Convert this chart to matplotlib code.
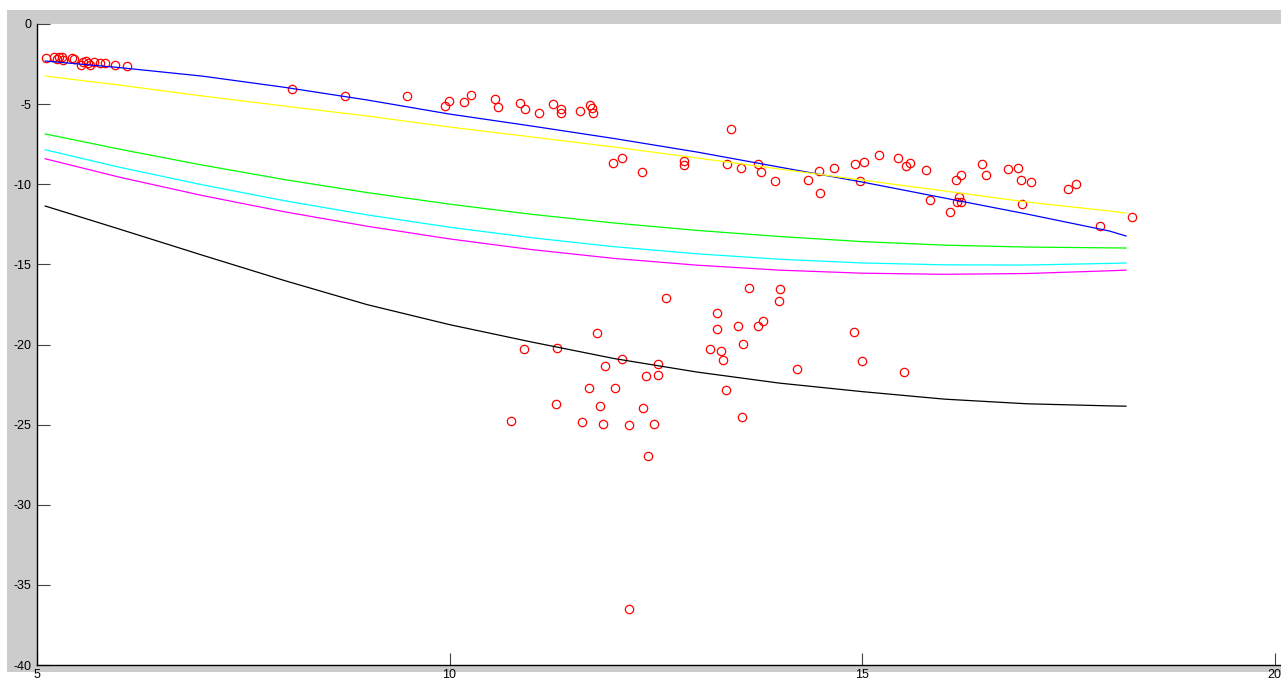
import matplotlib
matplotlib.use("Agg")
import matplotlib.pyplot as plt
from matplotlib.patches import Rectangle

plt.rcParams['font.family'] = ['Liberation Sans', 'DejaVu Sans']
plt.rcParams['axes.unicode_minus'] = False

# measured points
obs_x = [5.11, 5.20, 5.24, 5.27, 5.30, 5.32, 5.42, 5.45, 5.53, 5.56, 5.59, 5.62, 5.64, 5.69,
         5.76, 5.82, 5.95, 6.09, 8.09, 8.73,
         9.48, 9.99, 9.95, 10.17, 10.26, 10.55, 10.59, 10.86, 10.92, 11.08, 11.26, 11.35, 11.35,
         11.58, 11.70, 11.73, 11.74, 11.98, 12.09, 12.33,
         13.41, 12.84, 12.84, 13.36, 13.53, 13.74, 13.78, 13.94, 14.34, 14.48, 14.49, 14.66,
         14.92, 15.03, 15.20, 14.98, 15.44, 15.58, 15.53, 15.77, 16.14, 16.20, 16.46, 16.50,
         16.77, 16.89, 16.93, 17.05, 17.50, 17.59, 15.82, 16.07, 16.17, 16.20, 16.15, 16.94,
         17.88, 18.27,
         12.62, 13.63, 14.01, 13.99, 13.24, 13.24, 13.50, 13.80, 13.74, 11.79, 10.90, 11.30,
         13.16, 13.29, 13.31, 13.56, 12.09, 11.89, 12.53, 12.53, 12.38, 14.21, 13.35, 11.69,
         12.01, 11.29, 11.83, 12.34, 13.55, 10.75, 11.60, 11.86, 12.18, 12.48, 12.40, 14.90,
         15.00, 15.51, 12.18]
obs_y = [-2.14, -2.04, -2.20, -2.08, -2.04, -2.25, -2.14, -2.20, -2.56, -2.35, -2.29, -2.45, -2.56, -2.35,
         -2.42, -2.45, -2.56, -2.62, -4.08, -4.48,
         -4.48, -4.79, -5.10, -4.85, -4.45, -4.70, -5.16, -4.95, -5.32, -5.57, -5.01, -5.31, -5.57,
         -5.41, -5.06, -5.26, -5.57, -8.68, -8.36, -9.24,
         -6.54, -8.55, -8.80, -8.74, -9.01, -8.76, -9.26, -9.80, -9.74, -9.16, -10.57, -9.01,
         -8.74, -8.61, -8.18, -9.80, -8.36, -8.66, -8.86, -9.11, -9.74, -9.43, -8.74, -9.43,
         -9.07, -9.01, -9.74, -9.84, -10.30, -9.99, -10.99, -11.75, -10.82, -11.09, -11.13, -11.25,
         -12.61, -12.03,
         -17.12, -16.50, -16.56, -17.27, -18.06, -19.04, -18.83, -18.52, -18.83, -19.27, -20.31, -20.22,
         -20.31, -20.43, -20.97, -19.98, -20.93, -21.35, -21.24, -21.93, -21.97, -21.55, -22.85, -22.70,
         -22.70, -23.72, -23.85, -23.97, -24.53, -24.78, -24.86, -24.93, -25.03, -24.97, -26.97, -19.24,
         -21.04, -21.70, -36.52]

# fitted curves
fit_x = [5.1, 6, 7, 8, 9, 10, 11, 12, 13, 14, 15, 16, 17, 18, 18.2]
fit_blue = [-2.31, -2.72, -3.25, -3.95, -4.74, -5.62, -6.37, -7.15, -7.99, -8.93, -9.86, -10.86,
            -11.86, -12.92, -13.23]
fit_yellow = [-3.25, -3.81, -4.49, -5.12, -5.74, -6.43, -7.05, -7.68, -8.36, -9.05, -9.74, -10.42,
              -11.11, -11.67, -11.80]
fit_green = [-6.86, -7.81, -8.80, -9.71, -10.52, -11.24, -11.88, -12.42, -12.88, -13.26, -13.58,
             -13.80, -13.92, -13.97, -13.98]
fit_cyan = [-7.85, -8.94, -10.03, -11.03, -11.91, -12.68, -13.34, -13.90, -14.34, -14.68, -14.91,
            -15.03, -15.04, -14.94, -14.91]
fit_magenta = [-8.41, -9.56, -10.70, -11.72, -12.62, -13.41, -14.08, -14.63, -15.05, -15.36, -15.55,
               -15.62, -15.57, -15.40, -15.36]
fit_black = [-11.36, -12.80, -14.42, -16.01, -17.51, -18.76, -19.85, -20.88, -21.72, -22.41, -22.94,
             -23.41, -23.70, -23.83, -23.85]

W, H = 1281, 682
fig = plt.figure(figsize=(W / 100, H / 100), dpi=100, facecolor='white')
# grey window area behind the axes
fig.patches.append(Rectangle((7 / W, 10 / H), 1, 662 / H, transform=fig.transFigure,
                             facecolor='#cccccc', edgecolor='none', zorder=-10))

ax = fig.add_axes([37 / W, 17 / H, 1 - 37 / W, 641 / H])
ax.set_facecolor('white')

ax.plot(obs_x, obs_y, 'o', color='red', mfc='none', ms=6, mew=0.9)
ax.plot(fit_x, fit_blue, color='blue', lw=0.9)
ax.plot(fit_x, fit_yellow, color='yellow', lw=0.9)
ax.plot(fit_x, fit_green, color='#00ff00', lw=0.9)
ax.plot(fit_x, fit_cyan, color='cyan', lw=0.9)
ax.plot(fit_x, fit_magenta, color='magenta', lw=0.9)
ax.plot(fit_x, fit_black, color='black', lw=0.9)

ax.set_xlim(5, 5 + (W - 37) / 82.5)
ax.set_ylim(-40, 0)
ax.set_xticks([5, 10, 15, 20])
ax.set_yticks([0, -5, -10, -15, -20, -25, -30, -35, -40])

for s in ('top', 'right'):
    ax.spines[s].set_visible(False)
for s in ('left', 'bottom'):
    ax.spines[s].set_linewidth(1.0)
    ax.spines[s].set_color('black')

ax.tick_params(direction='in', length=9, width=0.8, color='#444444',
               labelsize=9, labelcolor='black')
ax.tick_params(axis='y', pad=4)
ax.tick_params(axis='x', pad=3)

fig.savefig('out.png', dpi=100, facecolor=fig.get_facecolor())
